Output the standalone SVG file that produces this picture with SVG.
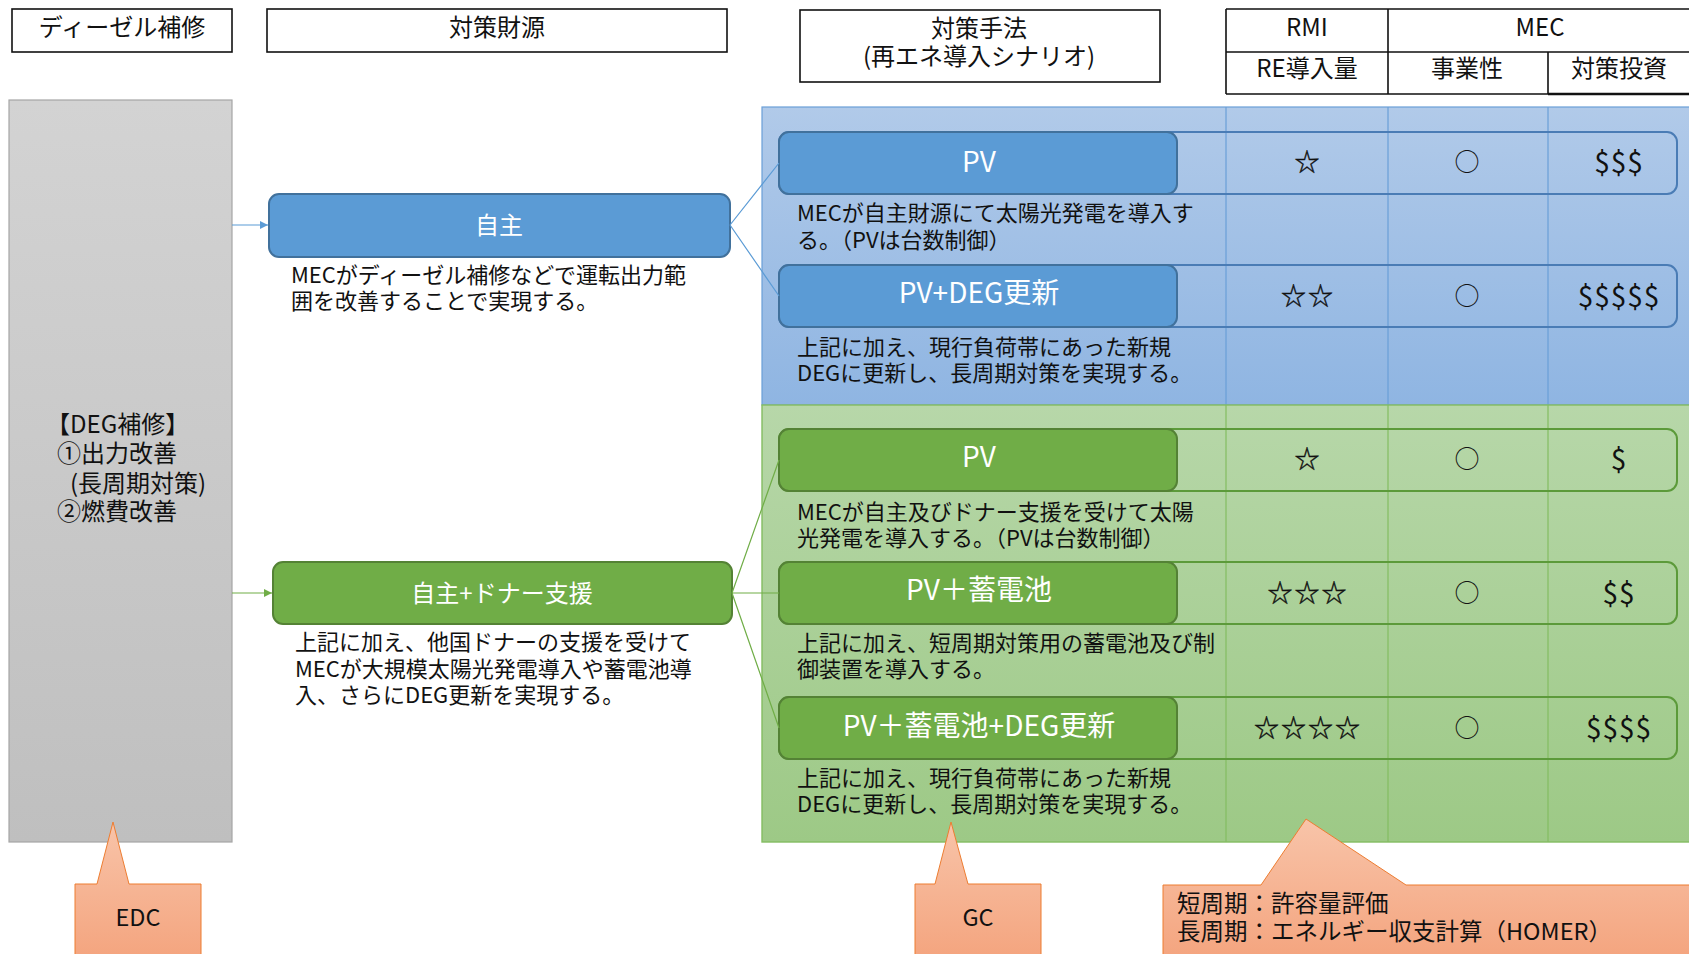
<svg xmlns="http://www.w3.org/2000/svg" width="1689" height="954" viewBox="0 0 1689 954">
<style>
text{font-family:"Noto Sans CJK JP","Noto Sans",sans-serif;fill:#111}
.hd{font-size:24px;text-anchor:middle}
.hbox{fill:#fff;stroke:#111;stroke-width:1.6}
.desc{font-size:22px}
.lbl{font-size:24px;fill:#fff;text-anchor:middle}
.rl{font-size:28px;fill:#fff;text-anchor:middle}
.sym{font-size:25px;text-anchor:middle}
.star{font-size:25px;text-anchor:middle;letter-spacing:2px;stroke:#111;stroke-width:0.4}
.dol{font-size:28px;text-anchor:middle;letter-spacing:1px}
.bout{fill:none;stroke:#4a7cb5;stroke-width:2}
.bfill{fill:#5b9bd5;stroke:#41719c;stroke-width:2}
.gout{fill:none;stroke:#5c9a3a;stroke-width:2}
.gfill{fill:#70ad47;stroke:#548235;stroke-width:2}
.call{fill:url(#og);stroke:#ed7d31;stroke-width:1}
.ct{font-size:23.5px}
</style>
<defs>
<linearGradient id="gg" x1="0" y1="0" x2="0" y2="1"><stop offset="0" stop-color="#d3d3d3"/><stop offset="1" stop-color="#bfbfbf"/></linearGradient>
<linearGradient id="bg" x1="0" y1="0" x2="0" y2="1"><stop offset="0" stop-color="#b1cae9"/><stop offset="1" stop-color="#8fb5e2"/></linearGradient>
<linearGradient id="grg" x1="0" y1="0" x2="0" y2="1"><stop offset="0" stop-color="#b7d7a9"/><stop offset="1" stop-color="#9dc986"/></linearGradient>
<linearGradient id="og" x1="0" y1="0" x2="0" y2="1"><stop offset="0" stop-color="#f8c4a9"/><stop offset="1" stop-color="#f4a47e"/></linearGradient>
<marker id="ab" viewBox="0 0 10 10" refX="10" refY="5" markerWidth="8" markerHeight="8" markerUnits="userSpaceOnUse" orient="auto"><path d="M0,0 L10,5 L0,10 z" fill="#5b9bd5"/></marker>
<marker id="ag" viewBox="0 0 10 10" refX="10" refY="5" markerWidth="8" markerHeight="8" markerUnits="userSpaceOnUse" orient="auto"><path d="M0,0 L10,5 L0,10 z" fill="#70ad47"/></marker>
</defs>
<rect width="1689" height="954" fill="#fff"/>

<!-- headers -->
<g id="h-diesel"><rect class="hbox" x="12" y="9" width="220" height="43"/><text class="hd" x="122" y="36">ディーゼル補修</text></g>
<g id="h-zaigen"><rect class="hbox" x="267" y="9" width="460" height="43"/><text class="hd" x="497" y="36">対策財源</text></g>
<g id="h-shuho"><rect class="hbox" x="800" y="10" width="360" height="72"/><text class="hd" x="979" y="37">対策手法</text><text class="hd" x="979" y="65">(再エネ導入シナリオ)</text></g>
<g id="h-table" fill="none" stroke="#111" stroke-width="1.6">
<path d="M1226,9 H1689 M1226,52 H1689 M1226,94 H1548 M1226,9 V94 M1388,9 V94 M1548,52 V94"/>
<path d="M1548,94 H1689" stroke-width="2.6"/>
</g>
<g id="h-table-text">
<text class="hd" x="1307" y="36">RMI</text><text class="hd" x="1540" y="36">MEC</text>
<text class="hd" x="1307" y="77">RE導入量</text><text class="hd" x="1467" y="77">事業性</text><text class="hd" x="1619" y="77">対策投資</text>
</g>

<!-- panels -->
<g id="panel-blue">
<rect x="762" y="107" width="940" height="298" fill="url(#bg)" stroke="#6a9fd8" stroke-width="1.2"/>
<path d="M1226,107 V405 M1388,107 V405 M1548,107 V405" stroke="#6a9fd8" stroke-width="1.2"/>
</g>
<g id="panel-green">
<rect x="762" y="405" width="940" height="437" fill="url(#grg)" stroke="#84bd62" stroke-width="1.4"/>
<path d="M1226,405 V842 M1388,405 V842 M1548,405 V842" stroke="#84bd62" stroke-width="1.2"/>
</g>

<!-- left gray box -->
<g id="deg">
<rect x="9" y="100" width="223" height="742" fill="url(#gg)" stroke="#a6a6a6" stroke-width="1.2"/>
<text font-size="24" x="46" y="433">【DEG補修】</text>
<text font-size="24" x="57" y="462">①出力改善</text>
<text font-size="24" x="70" y="492">(長周期対策)</text>
<text font-size="24" x="57" y="520">②燃費改善</text>
</g>

<!-- finance nodes -->
<g id="jishu">
<rect class="bfill" x="269" y="194" width="461" height="63" rx="10"/>
<text class="lbl" x="499" y="234">自主</text>
<text class="desc" x="291" y="283">MECがディーゼル補修などで運転出力範</text>
<text class="desc" x="291" y="309">囲を改善することで実現する。</text>
</g>
<g id="donor">
<rect class="gfill" x="273" y="562" width="459" height="62" rx="10"/>
<text class="lbl" x="502" y="602">自主+ドナー支援</text>
<text class="desc" x="295" y="650">上記に加え、他国ドナーの支援を受けて</text>
<text class="desc" x="295" y="677">MECが大規模太陽光発電導入や蓄電池導</text>
<text class="desc" x="295" y="703">入、さらにDEG更新を実現する。</text>
</g>

<!-- blue rows -->
<g id="b-pv">
<rect class="bout" x="779" y="132" width="898" height="62" rx="10"/>
<rect class="bfill" x="779" y="132" width="398" height="62" rx="10"/>
<text class="rl" x="979" y="172">PV</text>
<text class="star" x="1308" y="171">☆</text><text class="sym" x="1467" y="171">○</text><text class="dol" x="1619" y="173">$$$</text>
<text class="desc" x="797" y="221">MECが自主財源にて太陽光発電を導入す</text>
<text class="desc" x="797" y="248">る。（PVは台数制御）</text>
</g>
<g id="b-pvdeg">
<rect class="bout" x="779" y="265" width="898" height="62" rx="10"/>
<rect class="bfill" x="779" y="265" width="398" height="62" rx="10"/>
<text class="rl" x="979" y="303">PV+DEG更新</text>
<text class="star" x="1308" y="305">☆☆</text><text class="sym" x="1467" y="305">○</text><text class="dol" x="1619" y="307">$$$$$</text>
<text class="desc" x="797" y="355">上記に加え、現行負荷帯にあった新規</text>
<text class="desc" x="797" y="381">DEGに更新し、長周期対策を実現する。</text>
</g>

<!-- green rows -->
<g id="g-pv">
<rect class="gout" x="779" y="429" width="898" height="62" rx="10"/>
<rect class="gfill" x="779" y="429" width="398" height="62" rx="10"/>
<text class="rl" x="979" y="467">PV</text>
<text class="star" x="1308" y="468">☆</text><text class="sym" x="1467" y="468">○</text><text class="dol" x="1619" y="470">$</text>
<text class="desc" x="797" y="520">MECが自主及びドナー支援を受けて太陽</text>
<text class="desc" x="797" y="546">光発電を導入する。（PVは台数制御）</text>
</g>
<g id="g-pvbat">
<rect class="gout" x="779" y="562" width="898" height="62" rx="10"/>
<rect class="gfill" x="779" y="562" width="398" height="62" rx="10"/>
<text class="rl" x="979" y="600">PV＋蓄電池</text>
<text class="star" x="1308" y="602">☆☆☆</text><text class="sym" x="1467" y="602">○</text><text class="dol" x="1619" y="604">$$</text>
<text class="desc" x="797" y="651">上記に加え、短周期対策用の蓄電池及び制</text>
<text class="desc" x="797" y="677">御装置を導入する。</text>
</g>
<g id="g-pvbatdeg">
<rect class="gout" x="779" y="697" width="898" height="62" rx="10"/>
<rect class="gfill" x="779" y="697" width="398" height="62" rx="10"/>
<text class="rl" x="979" y="736">PV＋蓄電池+DEG更新</text>
<text class="star" x="1308" y="737">☆☆☆☆</text><text class="sym" x="1467" y="737">○</text><text class="dol" x="1619" y="739">$$$$</text>
<text class="desc" x="797" y="786">上記に加え、現行負荷帯にあった新規</text>
<text class="desc" x="797" y="812">DEGに更新し、長周期対策を実現する。</text>
</g>

<!-- connectors -->
<g id="connectors" fill="none" stroke-width="1.2">
<path d="M232,225 H268" stroke="#5b9bd5" marker-end="url(#ab)"/>
<path d="M232,593 H272" stroke="#70ad47" marker-end="url(#ag)"/>
<path d="M730,225 L779,163 M730,225 L779,296" stroke="#5b9bd5"/>
<path d="M732,593 L779,460 M732,593 H779 M732,593 L779,728" stroke="#70ad47"/>
</g>

<!-- callouts -->
<g id="c-edc">
<path class="call" d="M75,884 H97 L113,822 L129,884 H201 V960 H75 Z"/>
<text class="ct" x="138" y="926" text-anchor="middle">EDC</text>
</g>
<g id="c-gc">
<path class="call" d="M915,884 H935 L951,822 L968,884 H1041 V960 H915 Z"/>
<text class="ct" x="978" y="926" text-anchor="middle">GC</text>
</g>
<g id="c-homer">
<path class="call" d="M1163,885 H1261 L1306,819 L1406,885 H1700 V960 H1163 Z"/>
<text class="ct" x="1177" y="912">短周期：許容量評価</text>
<text class="ct" x="1177" y="940">長周期：エネルギー収支計算（HOMER）</text>
</g>
</svg>
